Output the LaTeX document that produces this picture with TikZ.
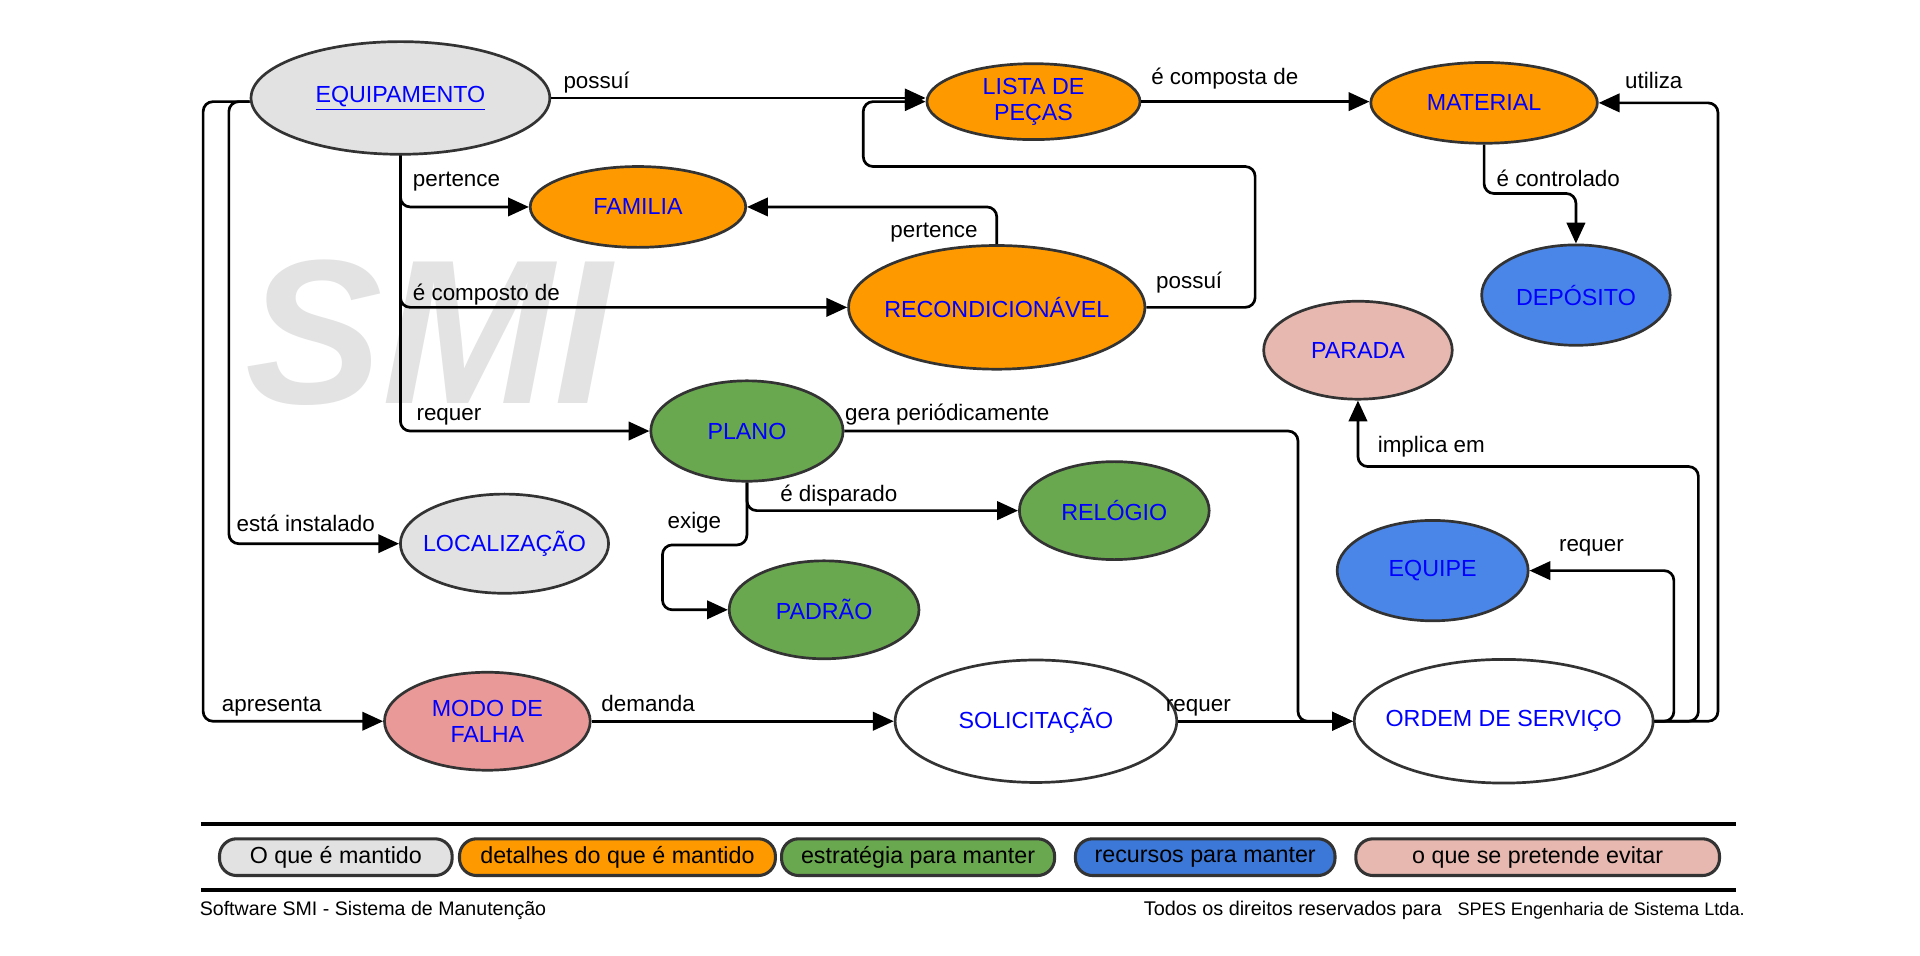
\documentclass[tikz,border=0pt]{standalone}
\usepackage{fontspec}
\setmainfont{Liberation Sans}
\usetikzlibrary{shapes.geometric,arrows.meta,calc}
\definecolor{bordc}{HTML}{333333}
\definecolor{cgrey}{HTML}{E2E2E2}
\definecolor{corange}{HTML}{FF9900}
\definecolor{cgreen}{HTML}{6AA84F}
\definecolor{cblue}{HTML}{4A86E8}
\definecolor{cblueL}{HTML}{3C78D8}
\definecolor{cpink}{HTML}{E6B8AF}
\definecolor{cred}{HTML}{EA9999}
\definecolor{cwater}{HTML}{E3E3E3}
\definecolor{ctext}{HTML}{0000FF}
\newcommand{\mk}[1]{\makebox[0pt]{#1}}
\begin{document}
\begin{tikzpicture}[x=1pt,y=-1pt,
  ell/.style={ellipse, draw=bordc, line width=2.2pt, inner sep=0pt, font=\fontsize{19}{21.5}\selectfont, text=ctext, align=center},
  conn/.style={draw=black, line width=2.2pt, rounded corners=8pt, -{Triangle[length=17pt,width=15pt]}},
  lbl/.style={anchor=mid west, inner sep=0pt, font=\fontsize{18.3}{21}\selectfont},
  leg/.style={draw=bordc, line width=2.5pt, rounded corners=14pt, minimum height=30pt, inner sep=0pt, font=\fontsize{19}{21}\selectfont, anchor=west},
  foot/.style={anchor=base west, inner sep=0pt, font=\fontsize{16}{18}\selectfont}
]
\useasboundingbox (0,0) rectangle (1568,780);
\fill[white] (0,0) rectangle (1568,780);

% watermark
\node[inner sep=0pt, text=cwater, font=\fontsize{168}{168}\selectfont\bfseries\itshape] (WM) at (350,272) {SMI};

% nodes
\node[ell, fill=cgrey, minimum width=244pt, minimum height=92pt] (EQ) at (327,80) {\mk{\underline{EQUIPAMENTO}}};
\node[ell, fill=corange, minimum width=174pt, minimum height=62pt] (LP) at (844,83) {\mk{LISTA DE}\\\mk{PEÇAS}};
\node[ell, fill=corange, minimum width=185pt, minimum height=66pt] (MAT) at (1212,84) {\mk{MATERIAL}};
\node[ell, fill=corange, minimum width=176pt, minimum height=66pt] (FAM) at (521,169) {\mk{FAMILIA}};
\node[ell, fill=corange, minimum width=242pt, minimum height=101pt] (REC) at (814,251) {\mk{RECONDICIONÁVEL}};
\node[ell, fill=cblue, minimum width=154pt, minimum height=82pt] (DEP) at (1287,241) {\mk{DEPÓSITO}};
\node[ell, fill=cpink, minimum width=154pt, minimum height=80pt] (PAR) at (1109,286) {\mk{PARADA}};
\node[ell, fill=cgreen, minimum width=157pt, minimum height=82pt] (PL) at (610,352) {\mk{PLANO}};
\node[ell, fill=cgreen, minimum width=155pt, minimum height=80pt] (REL) at (910,417) {\mk{RELÓGIO}};
\node[ell, fill=cgrey, minimum width=170pt, minimum height=81pt] (LOC) at (412,444) {\mk{LOCALIZAÇÃO}};
\node[ell, fill=cgreen, minimum width=155pt, minimum height=80pt] (PAD) at (673,498) {\mk{PADRÃO}};
\node[ell, fill=cblue, minimum width=156pt, minimum height=82pt] (EQP) at (1170,466) {\mk{EQUIPE}};
\node[ell, fill=cred, minimum width=168pt, minimum height=80pt] (MF) at (398,589) {\mk{MODO DE}\\\mk{FALHA}};
\node[ell, fill=white, minimum width=230pt, minimum height=100pt] (SOL) at (846,589) {\mk{SOLICITAÇÃO}};
\node[ell, fill=white, minimum width=244pt, minimum height=101pt] (OS) at (1228,589) {\mk{ORDEM DE SERVIÇO}};

% connectors
\draw[conn] (EQ.east) -- (EQ.east -| LP.west);
\draw[conn] (LP.east) -- (LP.east -| MAT.west);
\draw[conn] (EQ.south) |- (FAM.west);
\draw[conn] (EQ.south) |- (REC.west);
\draw[conn] (EQ.south) |- (PL.west);
\draw[conn] ([yshift=-3pt]EQ.west) -- ++(-38,0) |- (MF.west);
\draw[conn] ([yshift=-3pt]EQ.west) -- ++(-17,0) |- (LOC.west);
\draw[conn] (REC.north) |- (FAM.east);
\coordinate (r1) at (1025,136);
\coordinate (r2) at (705,136);
\draw[conn] (REC.east) -| (r1) -- (r2) |- (LP.west);
\coordinate (m1) at (1250,158);
\draw[conn] (MAT.south) |- (m1) -| (DEP.north);
\coordinate (p1) at (1060,450);
\draw[conn] (PL.east) -| (p1) |- (OS.west);
\draw[conn] (PL.south) |- (REL.west);
\coordinate (p2) at (541,445);
\draw[conn] (PL.south) |- (p2) |- (PAD.west);
\draw[conn] (MF.east) -- (SOL.west);
\draw[conn] (SOL.east) -- (OS.west);
\coordinate (o1) at (1367,530);
\draw[conn] (OS.east) -| (o1) |- (EQP.east);
\coordinate (o2) at (1387,381);
\draw[conn] (OS.east) -| (o2) -| (PAR.south);
\coordinate (o3) at (1403,300);
\draw[conn] (OS.east) -| (o3) |- (MAT.east);

% labels
\node[lbl] (l1) at (460,70) {possuí};
\node[lbl] (l2) at (940,66) {é composta de};
\node[lbl] (l3) at (1327,70) {utiliza};
\node[lbl] (l4) at (337,150) {pertence};
\node[lbl] (l5) at (1222,150) {é controlado};
\node[lbl] (l6) at (727,191) {pertence};
\node[lbl] (l7) at (944,233) {possuí};
\node[lbl] (l8) at (337,243) {é composto de};
\node[lbl] (l9) at (340,341) {requer};
\node[lbl] (l10) at (690,341) {gera periódicamente};
\node[lbl] (l11) at (1125,367) {implica em};
\node[lbl] (l12) at (637,407) {é disparado};
\node[lbl] (l13) at (545,429) {exige};
\node[lbl] (l14) at (193,431) {está instalado};
\node[lbl] (l15) at (1273,448) {requer};
\node[lbl] (l16) at (181,578) {apresenta};
\node[lbl] (l17) at (491,578) {demanda};
\node[lbl] (l18) at (952,578) {requer};

% legend
\draw[line width=3pt] (164,673) -- (1418,673);
\draw[line width=3pt] (164,727) -- (1418,727);
\node[leg, fill=cgrey, minimum width=190pt] (L1) at (178,700) {O que é mantido};
\node[leg, fill=corange, minimum width=258pt] (L2) at (374,700) {detalhes do que é mantido};
\node[leg, fill=cgreen, minimum width=223pt] (L3) at (637,700) {estratégia para manter};
\node[leg, fill=cblueL, minimum width=212pt] (L4) at (877,700) {recursos para manter};
\node[leg, fill=cpink, minimum width=297pt] (L5) at (1106,700) {o que se pretende evitar};

% footer
\node[foot] (F1) at (163,748) {Software SMI - Sistema de Manutenção};
\node[foot, anchor=base east, font=\fontsize{14.8}{18}\selectfont] (F3) at (1425,748) {SPES Engenharia de Sistema Ltda.};
\node[foot, anchor=base west, font=\fontsize{16.2}{18}\selectfont] (F2) at (934,748) {Todos os direitos reservados para};
\end{tikzpicture}
\end{document}
